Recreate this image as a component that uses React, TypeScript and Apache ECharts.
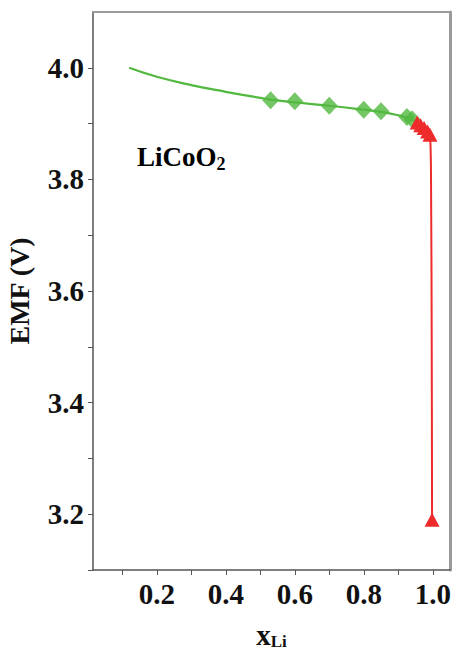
import React, { useEffect, useRef } from "react";
import * as echarts from "echarts";

const greenCurveX = [0.12, 0.2, 0.3, 0.4, 0.5, 0.53, 0.6, 0.7, 0.8, 0.85, 0.9, 0.94, 0.96];
const greenCurveY = [4.0, 3.984, 3.969, 3.957, 3.946, 3.943, 3.938, 3.932, 3.925, 3.921, 3.915, 3.907, 3.9];
const greenMarkX = [0.53, 0.6, 0.7, 0.8, 0.85, 0.925, 0.94];
const greenMarkY = [3.942, 3.94, 3.932, 3.925, 3.922, 3.912, 3.908];
const redX = [0.955, 0.965, 0.975, 0.985, 0.992, 0.995, 0.997, 0.998];
const redY = [3.902, 3.897, 3.892, 3.886, 3.88, 3.8, 3.5, 3.19];
const redMarked = [true, true, true, true, true, false, false, true];
const xTickValues = [0.1, 0.2, 0.3, 0.4, 0.5, 0.6, 0.7, 0.8, 0.9, 1.0];
const xLabelValues = [0.2, 0.4, 0.6, 0.8, 1.0];

const FONT = "Liberation Serif";

export default function App() {
  const ref = useRef<HTMLDivElement>(null);
  useEffect(() => {
    if (!ref.current) return;
    const chart = echarts.init(ref.current, null, { renderer: "svg" });
    const green = "#52b840";
    const red = "#ee2b2b";
    const labelStyle = { fontFamily: FONT, fontWeight: "bold" as const, fontSize: 29, color: "#111" };
    chart.setOption({
      animation: false,
      backgroundColor: "#fff",
      grid: { left: 93, top: 12, right: 7, bottom: 85, containLabel: false, outerBoundsMode: "none" },
      xAxis: [
        {
          type: "value",
          min: 0.015,
          max: 1.05,
          name: "{x|x}{s|Li}",
          nameLocation: "middle",
          nameGap: 49,
          nameTextStyle: {
            rich: {
              x: { ...labelStyle, fontSize: 29 },
              s: { ...labelStyle, fontSize: 17, verticalAlign: "bottom", padding: [14, 0, 0, 0] },
            },
          },
          splitLine: { show: false },
          axisLine: { show: true, lineStyle: { color: "#555", width: 1.5 } },
          axisTick: { show: true, inside: false, length: 5, customValues: xTickValues, lineStyle: { color: "#555" } },
          axisLabel: {
            ...labelStyle,
            margin: 9,
            customValues: xLabelValues,
            formatter: (v: number) => v.toFixed(1),
          },
        },
        {
          type: "value",
          position: "top",
          min: 0.015,
          max: 1.05,
          axisLine: { show: true, lineStyle: { color: "#9a9a9a", width: 2 } },
          axisTick: { show: false },
          axisLabel: { show: false },
          splitLine: { show: false },
        },
      ],
      yAxis: [
        {
          type: "value",
          min: 3.1,
          max: 4.1,
          interval: 0.1,
          name: "EMF (V)",
          nameLocation: "middle",
          nameGap: 60,
          nameTextStyle: { ...labelStyle, fontSize: 28 },
          splitLine: { show: false },
          axisLine: { show: true, lineStyle: { color: "#555", width: 1.5 } },
          axisTick: { show: true, inside: false, length: 5, lineStyle: { color: "#555" } },
          axisLabel: {
            ...labelStyle,
            margin: 9,
            showMaxLabel: false,
            formatter: (v: number) => (Math.round(v * 10) % 2 === 0 ? v.toFixed(1) : ""),
          },
        },
        {
          type: "value",
          position: "right",
          min: 3.1,
          max: 4.1,
          axisLine: { show: true, lineStyle: { color: "#9a9a9a", width: 3 } },
          axisTick: { show: false },
          axisLabel: { show: false },
          splitLine: { show: false },
        },
      ],
      graphic: [
        {
          type: "text",
          left: 137,
          top: 143,
          style: {
            text: "{a|LiCoO}{b|2}",
            rich: {
              a: { ...labelStyle, fontSize: 27 },
              b: { ...labelStyle, fontSize: 18, padding: [14, 0, 0, 0] },
            },
          },
        },
      ],
      series: [
        {
          type: "line",
          data: greenCurveX.map((x, i) => [x, greenCurveY[i]]),
          smooth: true,
          showSymbol: false,
          symbol: "none",
          lineStyle: { color: green, width: 2.2 },
          z: 2,
        },
        {
          type: "scatter",
          data: greenMarkX.map((x, i) => [x, greenMarkY[i]]),
          symbol: "diamond",
          symbolSize: [17, 18],
          itemStyle: { color: green },
          z: 3,
        },
        {
          type: "line",
          data: redX.map((x, i) => ({
            value: [x, redY[i]],
            symbol: redMarked[i] ? "triangle" : "none",
          })),
          smooth: 0.3,
          showAllSymbol: true,
          symbolSize: [15, 14],
          itemStyle: { color: red },
          lineStyle: { color: red, width: 2 },
          z: 4,
        },
      ],
    });
    return () => chart.dispose();
  }, []);
  return <div ref={ref} style={{ position: "fixed", left: 0, top: 0, width: 457, height: 655 }} />;
}
